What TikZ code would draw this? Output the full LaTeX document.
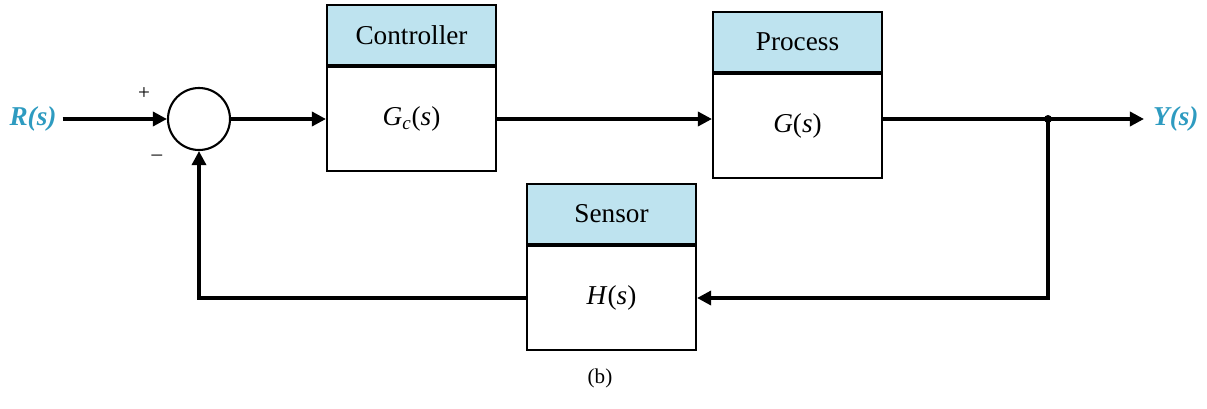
\documentclass[tikz,border=0pt]{standalone}
\usepackage{fontspec}
\setmainfont{Liberation Serif}
\usetikzlibrary{arrows.meta, positioning}

\definecolor{headblue}{HTML}{BEE3EF}
\definecolor{sigcyan}{HTML}{2E9BC0}

\begin{document}
\begin{tikzpicture}[
  body/.style={rectangle, draw, line width=1.2pt, minimum width=3.38cm, minimum height=2.08cm, align=center, font=\fontsize{15.5}{18}\selectfont},
  head/.style={rectangle, draw, line width=1.2pt, fill=headblue, minimum width=3.38cm, minimum height=1.2cm, font=\fontsize{15.5}{18}\selectfont},
  sig/.style={font=\fontsize{15.5}{18}\selectfont\bfseries\itshape, text=sigcyan},
  wire/.style={line width=1.9pt},
  >={Triangle[length=2.8mm, width=2.8mm]},
  node distance=0pt
]
\useasboundingbox (0,0) rectangle (24.14,8.16);

% forward path
\node[sig] (r) at (0.66,5.78) {R(s)};
\node[circle, draw, line width=1.2pt, minimum size=1.24cm, inner sep=0pt] (sum) at (3.98,5.78) {};
\node[font=\fontsize{12}{14}\selectfont] (plus) at (2.88,6.28) {+};
\node[font=\fontsize{12}{14}\selectfont] (minus) at (3.14,5.0) {--};

\node[body] (ctrl) at (8.23,5.78) {\textit{G}\textsubscript{\textit{c}}(\textit{s})};
\node[head, above=of ctrl.north, anchor=south] (ctrlhead) {Controller};

\node[body] (proc) at (15.95,5.64) {\textit{G}(\textit{s})};
\node[head, above=of proc.north, anchor=south] (prochead) {Process};

\coordinate (tap) at (20.96,5.78);
\node[sig, anchor=west, inner sep=1pt] (y) at (23.02,5.78) {Y(s)};

% feedback path
\node[body] (sens) at (12.23,2.2) {\textit{H}(\textit{s})};
\node[head, above=of sens.north, anchor=south] (senshead) {Sensor};

\node[font=\fontsize{12}{14}\selectfont] (cap) at (12.0,0.6) {(b)};

\draw[wire, ->] (r) -- (sum);
\draw[wire, ->] (sum) -- (ctrl);
\draw[wire, ->] (ctrl.east) -- (ctrl.east -| proc.west);
\draw[wire] (proc.east |- tap) -- (tap);
\draw[wire, ->, shorten >=4pt] (tap) -- (y.west);
\fill (tap) circle (0.08);
\draw[wire, ->] (tap) |- (sens.east);
\draw[wire, ->] (sens.west) -| (sum.south);
\end{tikzpicture}
\end{document}
